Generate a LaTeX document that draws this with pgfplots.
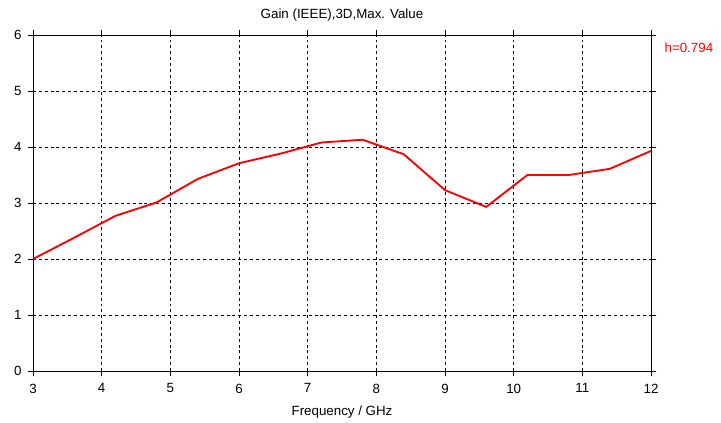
\documentclass[border=0pt]{standalone}
\usepackage{pgfplots}
\pgfplotsset{compat=1.18}
\usepackage{fontspec}
\setmainfont{Liberation Sans}
\begin{document}
\begin{tikzpicture}
\begin{axis}[
  scale only axis,
  width=463.5pt, height=252pt,
  xmin=3, xmax=12, ymin=0, ymax=6,
  xtick={3,...,12}, ytick={0,...,6},
  tick align=outside,
  major tick length=4pt,
  tick style={black, line width=0.6pt},
  axis line style={black, line width=0.7pt},
  grid=major,
  major grid style={black, dash pattern=on 2.2pt off 2.2pt, line width=0.5pt},
  ticklabel style={font=\fontsize{10}{11}\selectfont},
  /pgf/number format/assume math mode=true,
  xticklabel style={yshift=-2pt},
  yticklabel style={xshift=-1pt},
  xlabel={Frequency / GHz},
  xlabel style={font=\fontsize{10}{11}\selectfont, yshift=-3pt},
  title={Gain (IEEE),3D,Max. Value},
  title style={font=\fontsize{10}{11}\selectfont, yshift=1pt},
  clip=false,
]
\addplot[red, line width=1.4pt] coordinates {
  (3.0,2.00) (3.6,2.38) (4.2,2.77) (4.8,3.01) (5.4,3.43) (6.0,3.71)
  (6.6,3.88) (7.2,4.08) (7.8,4.13) (8.4,3.87) (9.0,3.23) (9.6,2.93)
  (10.2,3.50) (10.8,3.50) (11.4,3.61) (12.0,3.93)
};
\node[anchor=west, text=red, font=\fontsize{10}{11}\selectfont, inner sep=0pt]
  at (rel axis cs:1,1) [xshift=10pt, yshift=-9.75pt] {h=0.794};
\end{axis}
\pgfresetboundingbox
\path (-24.75pt,-39pt) rectangle (516pt,278.25pt);
\end{tikzpicture}
\end{document}
